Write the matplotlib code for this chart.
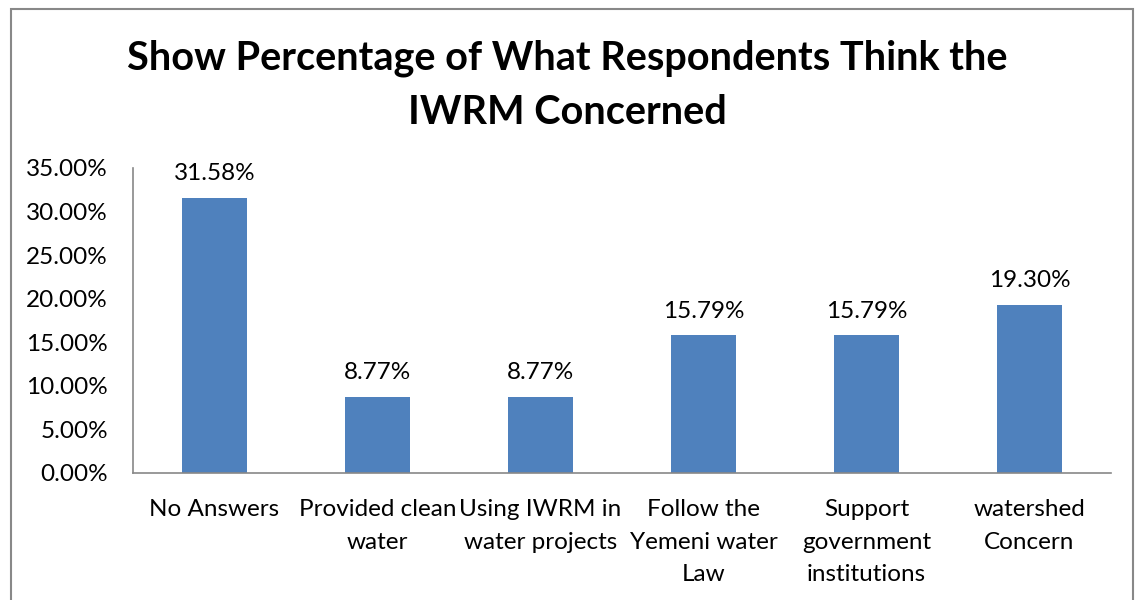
import matplotlib
matplotlib.use("Agg")
import matplotlib.pyplot as plt
from matplotlib.patches import Rectangle
from matplotlib.ticker import FuncFormatter

# Survey answers about what IWRM is concerned with
categories = ["No Answers", "Provided clean\nwater", "Using IWRM in\nwater projects",
              "Follow the\nYemeni water\nLaw", "Support\ngovernment\ninstitutions",
              "watershed\nConcern"]
percentages = [31.58, 8.77, 8.77, 15.79, 15.79, 19.30]
yticks = [0, 5, 10, 15, 20, 25, 30, 35]

plt.rcParams['font.family'] = ['Lato', 'DejaVu Sans']

fig = plt.figure(figsize=(11.35, 6), dpi=100)
ax = fig.add_axes([0.1172, 0.2117, 0.8617, 0.5083])

x = range(len(categories))
ax.bar(x, percentages, width=0.4, color='#4F81BD')
for xi, v in zip(x, percentages):
    ax.text(xi, v + 1.55, "{:.2f}%".format(v), ha='center', va='bottom', fontsize=17.5)

ax.set_xlim(-0.5, len(categories) - 0.5)
ax.set_ylim(0, 35)
ax.set_yticks(yticks)
ax.yaxis.set_major_formatter(FuncFormatter(lambda v, p: "{:.2f}%".format(v)))
ax.set_xticks(list(x))
ax.set_xticklabels(categories, fontsize=17.5, linespacing=1.68, va='top')
ax.tick_params(axis='both', length=0, labelsize=17.5)
ax.tick_params(axis='x', pad=19)
ax.tick_params(axis='y', pad=18)

for side in ['top', 'right']:
    ax.spines[side].set_visible(False)
for side in ['left', 'bottom']:
    ax.spines[side].set_color('#888888')
    ax.spines[side].set_linewidth(1.2)

fig.text(0.5, 0.858, "Show Percentage of What Respondents Think the\nIWRM Concerned",
         ha='center', va='center', fontsize=28.5, fontweight='bold', linespacing=1.55)

# grey frame round the chart
fig.patches.append(Rectangle((11 / 1135, -0.1), 1122 / 1135, 1.1 - 9 / 600,
                             transform=fig.transFigure, fill=False,
                             edgecolor='#888888', linewidth=1.5))

fig.savefig("out.png", dpi=100)
